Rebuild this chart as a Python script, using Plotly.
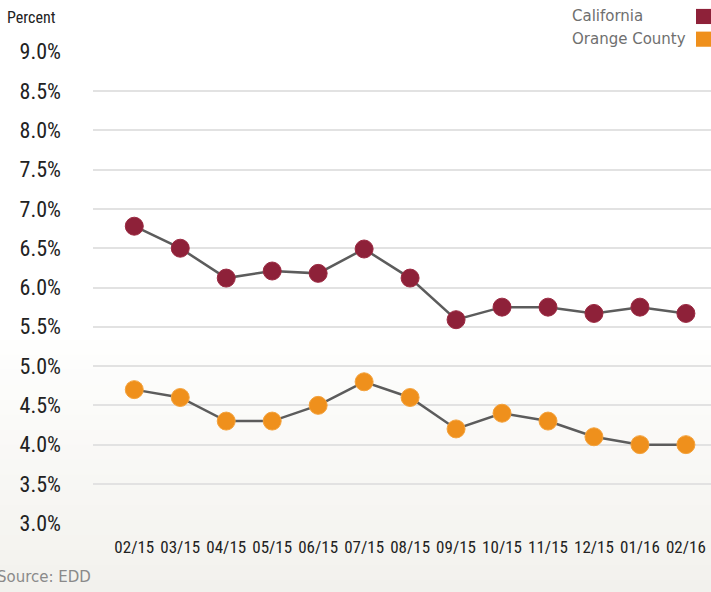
import plotly.graph_objects as go

months = ["02/15", "03/15", "04/15", "05/15", "06/15", "07/15", "08/15",
          "09/15", "10/15", "11/15", "12/15", "01/16", "02/16"]
california = [6.78, 6.50, 6.12, 6.21, 6.18, 6.49, 6.12, 5.59, 5.75, 5.75, 5.67, 5.75, 5.67]
orange_county = [4.7, 4.6, 4.3, 4.3, 4.5, 4.8, 4.6, 4.2, 4.4, 4.3, 4.1, 4.0, 4.0]
series_names = ["California", "Orange County"]
series_colors = ["#8e2139", "#ef901c"]
marker_edges = ["#9b2a42", "#f4a23c"]
y_ticks = [3.0, 3.5, 4.0, 4.5, 5.0, 5.5, 6.0, 6.5, 7.0, 7.5, 8.0, 8.5, 9.0]

COND = "Roboto Condensed"
x_idx = list(range(len(months)))
fig = go.Figure()
for name, vals, col, edge in zip(series_names, [california, orange_county], series_colors, marker_edges):
    fig.add_trace(go.Scatter(
        x=x_idx, y=vals, name=name, mode="lines+markers",
        line=dict(color="#5c5c5c", width=2.5),
        marker=dict(size=18, color=col, line=dict(color=edge, width=1)),
        showlegend=False, cliponaxis=False, hoverinfo="skip",
    ))

# background vertical gradient (white -> warm light grey)
shapes = []
n = 40
top_c = (255, 255, 255)
bot_c = (242, 241, 236)
y_lo, y_hi = -0.15, 1.12
for i in range(n):
    f0 = i / n
    f1 = (i + 1) / n
    yb = y_lo + (y_hi - y_lo) * f0
    yt = y_lo + (y_hi - y_lo) * f1
    t = max(0.0, min(1.0, (0.42 - (yb + yt) / 2) / 0.57))
    c = tuple(round(top_c[k] + (bot_c[k] - top_c[k]) * t) for k in range(3))
    shapes.append(dict(type="rect", xref="paper", yref="paper", x0=-0.2, x1=1.05,
                       y0=yb, y1=yt + 0.002, fillcolor="rgb(%d,%d,%d)" % c,
                       line=dict(width=0), layer="below"))

annotations = [
    dict(text="Percent", xref="paper", yref="paper", x=0, y=1, xanchor="left",
         yanchor="middle", xshift=-88, yshift=34, showarrow=False,
         font=dict(family=COND, size=16, color="#222")),
    dict(text="Source: EDD", xref="paper", yref="paper", x=0, y=0, xanchor="right",
         yanchor="middle", xshift=0, yshift=-53, showarrow=False,
         font=dict(family="DejaVu Sans", size=15, color="#8a8a8a")),
]
leg_y = [1.073, 1.025]
for name, col, ly in zip(series_names, series_colors, leg_y):
    annotations.append(dict(text=name, xref="paper", yref="paper", x=0, y=ly,
                            xanchor="left", yanchor="middle", xshift=477, showarrow=False,
                            font=dict(family="DejaVu Sans", size=15, color="#6f6f6f")))
    shapes.append(dict(type="rect", xref="paper", yref="paper", x0=(696 - 93) / 618, x1=1.0,
                       y0=ly - 0.016, y1=ly + 0.016, fillcolor=col, line=dict(width=0),
                       layer="above"))

fig.update_layout(
    width=711, height=592,
    margin=dict(l=93, r=0, t=51, b=68),
    paper_bgcolor="white", plot_bgcolor="rgba(0,0,0,0)",
    shapes=shapes, annotations=annotations, hovermode=False,
    xaxis=dict(range=[-0.898, 12.546], tickvals=x_idx, ticktext=months,
               showgrid=False, zeroline=False, showline=False, ticks="",
               tickangle=0, automargin=False, fixedrange=True,
               tickfont=dict(family=COND, size=17, color="#222"),
               ticklabelstandoff=11),
    yaxis=dict(range=[2.99, 9.01], tickvals=y_ticks,
               ticktext=["%.1f%%" % v for v in y_ticks],
               showgrid=True, gridcolor="#e2e2e2", gridwidth=1.5,
               zeroline=False, showline=False, ticks="", automargin=False, fixedrange=True,
               tickfont=dict(family=COND, size=22, color="#222"),
               ticklabelstandoff=31),
)
fig.write_html("out.html", config={"displayModeBar": False},
               post_script="document.body.style.margin='0';document.body.style.overflow='hidden';")
